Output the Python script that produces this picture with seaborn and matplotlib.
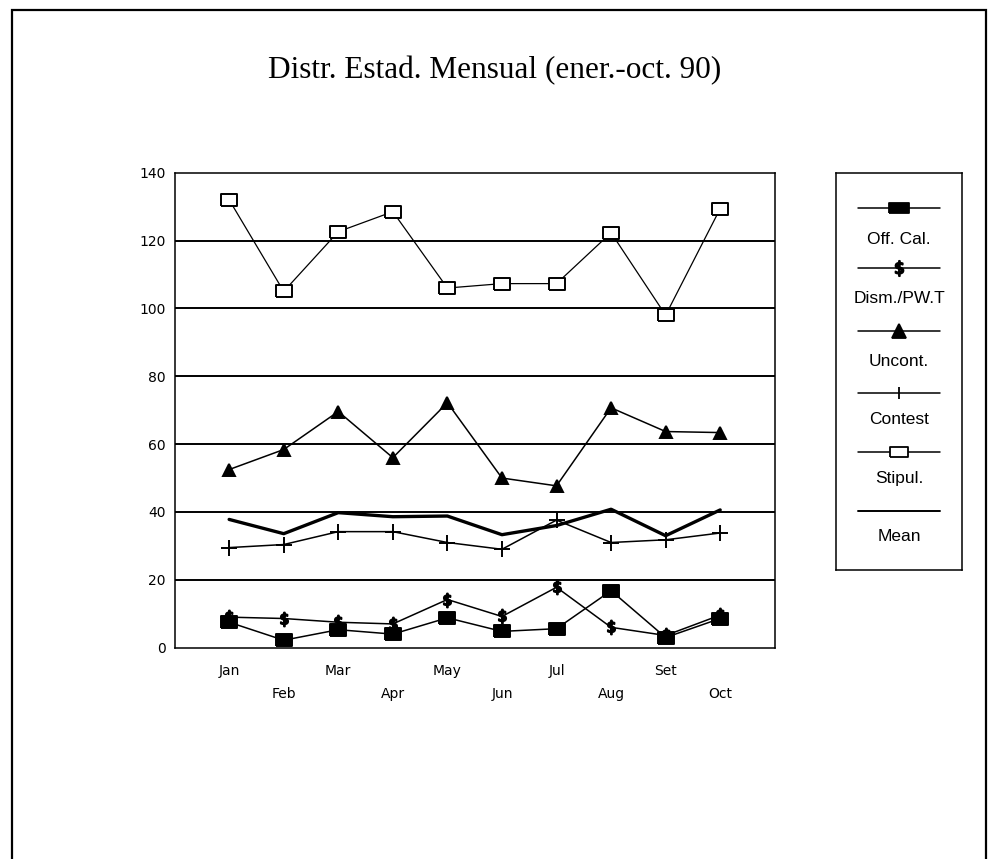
import numpy as np
import matplotlib
matplotlib.use("Agg")
import matplotlib.pyplot as plt
import seaborn as sns

# monthly values
months = ["Jan", "Feb", "Mar", "Apr", "May", "Jun", "Jul", "Aug", "Set", "Oct"]
off_cal = [7.5, 2.2, 5.3, 4.0, 8.8, 4.8, 5.6, 16.8, 3.0, 8.6]
dism_pwt = [9.0, 8.6, 7.5, 7.0, 14.2, 9.2, 17.8, 6.0, 3.6, 9.6]
uncont = [52.5, 58.4, 69.6, 56.0, 72.2, 50.0, 47.7, 70.7, 63.7, 63.4]
contest = [29.5, 30.4, 34.2, 34.2, 31.0, 29.0, 37.6, 31.0, 31.8, 33.8]
stipul = [132.0, 105.0, 122.6, 128.5, 106.0, 107.3, 107.3, 122.3, 98.0, 129.4]
mean = [37.8, 33.6, 39.8, 38.6, 38.8, 33.3, 36.0, 40.8, 33.0, 40.6]

legend_labels = ["Off. Cal.", "Dism./PW.T", "Uncont.", "Contest", "Stipul.", "Mean"]

sns.set_style("white")
plt.rcParams["font.family"] = ["DejaVu Sans"]
plt.rcParams["text.color"] = "black"

# slightly wide rectangle marker, like the original plotter boxes
rect = [(-1.25, -1), (1.25, -1), (1.25, 1), (-1.25, 1), (-1.25, -1)]
rect_wide = [(-2, -1), (2, -1), (2, 1), (-2, 1), (-2, -1)]

fig = plt.figure(figsize=(9.92, 8.59), dpi=100)
ax = fig.add_axes([0.176, 0.246, 0.605, 0.553])

x = np.arange(len(months))
styles = [
    dict(y=off_cal, marker=rect, ms=11, mfc="black", lw=1.1, leg=rect_wide, lms=14),
    dict(y=dism_pwt, marker=r"$\$$", ms=10, mfc="black", lw=1.1, leg=r"$\$$", lms=11),
    dict(y=uncont, marker="^", ms=9, mfc="black", lw=1.1, leg="^", lms=10),
    dict(y=contest, marker="+", ms=12, mfc="black", lw=1.1, leg="|", lms=8),
    dict(y=stipul, marker=rect, ms=11, mfc="white", lw=0.9, leg=rect_wide, lms=13),
    dict(y=mean, marker=None, ms=0, mfc="black", lw=2.4, leg=None, lms=0),
]

for s in styles:
    sns.lineplot(x=x, y=s["y"], ax=ax, color="black", linewidth=s["lw"],
                 marker=s["marker"], markersize=s["ms"], markerfacecolor=s["mfc"],
                 markeredgecolor="black", markeredgewidth=1.4, zorder=3)

ax.set_xlim(-1, len(months))
ax.set_ylim(0, 140)
ax.set_yticks(range(0, 141, 20))
for yv in range(20, 140, 20):
    ax.axhline(yv, color="black", lw=1.4, zorder=1)
for sp in ax.spines.values():
    sp.set_color("black")
    sp.set_linewidth(1.1)
ax.set_xticks(x)
ax.set_xticklabels(months, fontsize=10)
ax.tick_params(axis="x", direction="out", length=8, width=1, colors="black")
ax.tick_params(axis="y", direction="out", length=3, width=1, labelsize=10, colors="black")
for i, t in enumerate(ax.xaxis.get_major_ticks()):
    t.set_pad(4 if i % 2 == 0 else 20)
ax.set_xlabel("")
ax.set_ylabel("")

fig.text(0.499, 0.918, "Distr. Estad. Mensual (ener.-oct. 90)", ha="center", va="center",
         fontsize=22.5, color="black", family=["Liberation Serif", "DejaVu Serif"])

# outer frame
fig.add_artist(plt.Rectangle((0.012, -0.05), 0.982, 1.038, transform=fig.transFigure,
                             fill=False, lw=1.6, color="black"))

# legend panel: sample line above each label
lg = fig.add_axes([0.843, 0.336, 0.127, 0.463])
lg.set_xlim(0, 1)
lg.set_ylim(0, 1)
lg.set_xticks([])
lg.set_yticks([])
for sp in lg.spines.values():
    sp.set_color("black")
    sp.set_linewidth(1.1)
handle_y = [0.912, 0.761, 0.602, 0.446, 0.297, 0.149]
label_y = [0.831, 0.683, 0.526, 0.380, 0.232, 0.086]
for s, hy, ty, lab in zip(styles, handle_y, label_y, legend_labels):
    lg.plot([0.175, 0.825], [hy, hy], color="black", lw=1.1 if s["leg"] else 1.4)
    if s["leg"] is not None:
        lg.plot([0.5], [hy], marker=s["leg"], ms=s["lms"], mfc=s["mfc"],
                mec="black", mew=1.3, color="black")
    lg.text(0.5, ty, lab, ha="center", va="center", fontsize=12.5, color="black",
            family=["Liberation Sans Narrow", "Liberation Sans", "DejaVu Sans"])

fig.savefig("out.png", dpi=100)
